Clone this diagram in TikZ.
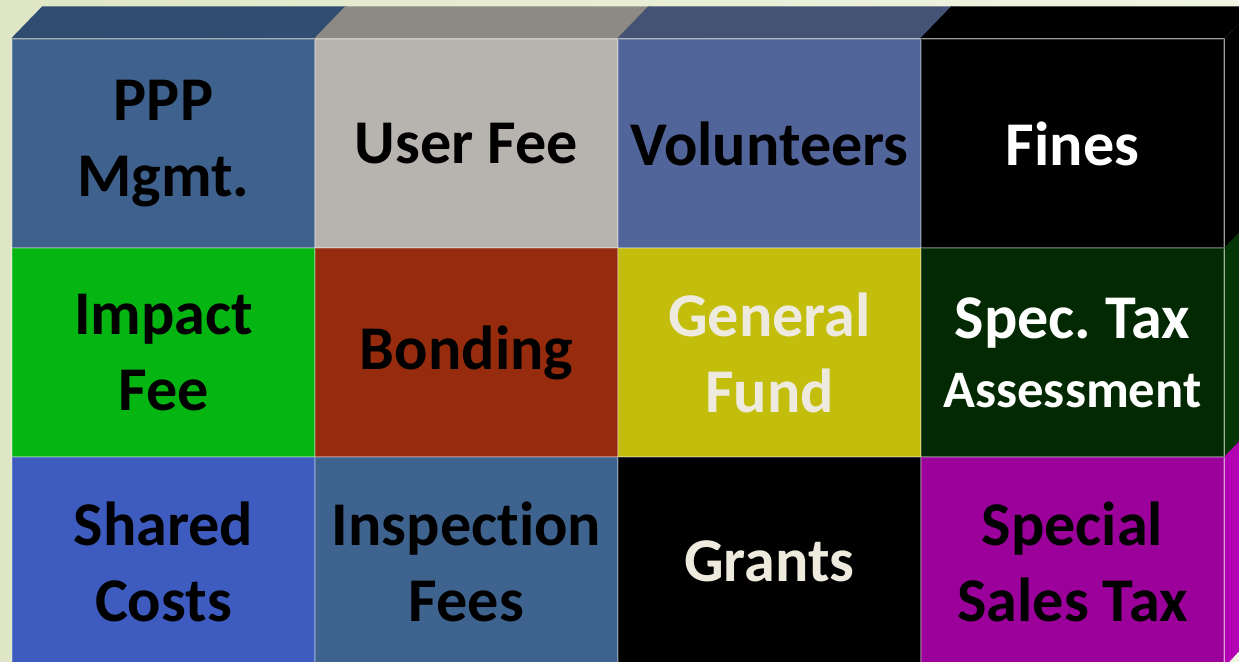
\documentclass[tikz,border=0pt]{standalone}
\usepackage{fontspec}
\setmainfont{Carlito}[Ligatures={NoCommon}]
\frenchspacing

\definecolor{bgleft}{HTML}{DFE6C5}
\definecolor{bgright}{HTML}{F1F5E4}
\definecolor{pppblue}{HTML}{3F618D}
\definecolor{ppptop}{HTML}{2F4D70}
\definecolor{feegrey}{HTML}{B7B4AF}
\definecolor{feetop}{HTML}{8C8A83}
\definecolor{volblue}{HTML}{52659A}
\definecolor{voltop}{HTML}{435275}
\definecolor{impactgreen}{HTML}{05B512}
\definecolor{bondred}{HTML}{962C0D}
\definecolor{fundyellow}{HTML}{C3BD0B}
\definecolor{taxgreen}{HTML}{022902}
\definecolor{taxside}{HTML}{063606}
\definecolor{sharedblue}{HTML}{3E5BBF}
\definecolor{inspblue}{HTML}{3F638F}
\definecolor{salesmag}{HTML}{9B009B}
\definecolor{salesside}{HTML}{B200B2}
\definecolor{paletext}{HTML}{EEEADD}

\begin{document}
\begin{tikzpicture}[
	cell/.style={rectangle, minimum width=3.03cm, minimum height=2.09cm, inner sep=0pt,
		align=center, draw=white, draw opacity=0.2, line width=0.4pt,
		font=\fontsize{17.7}{21.6}\selectfont\bfseries}
	]
	%background
	\useasboundingbox (0,0) rectangle (12.39,6.62);
	\shade[left color=bgleft, right color=bgright] (0,0) rectangle (12.39,6.62);
	
	%top row
	\node[cell, fill=pppblue] (ppp) at (1.635,5.185) {PPP\\Mgmt.};
	\node[cell, fill=feegrey] (userfee) at (4.665,5.185) {User Fee};
	\node[cell, fill=volblue] (volunteers) at (7.695,5.185) {Volunteers};
	\node[cell, fill=black, text=white] (fines) at (10.725,5.185) {Fines};
	
	%middle row
	\node[cell, fill=impactgreen] (impact) at (1.635,3.095) {Impact\\Fee};
	\node[cell, fill=bondred] (bonding) at (4.665,3.095) {Bonding};
	\node[cell, fill=fundyellow, text=paletext] (fund) at (7.695,3.095) {General\\Fund};
	\node[cell, fill=taxgreen, text=white] (spectax) at (10.725,3.095)
		{Spec. Tax\\[-2pt]{\fontsize{15}{18}\selectfont Assessment}};
	
	%bottom row
	\node[cell, fill=sharedblue] (shared) at (1.635,1.005) {Shared\\Costs};
	\node[cell, fill=inspblue] (inspection) at (4.665,1.005) {Inspection\\Fees};
	\node[cell, fill=black, text=paletext] (grants) at (7.695,1.005) {Grants};
	\node[cell, fill=salesmag] (salestax) at (10.725,1.005) {Special\\Sales Tax};
	
	%top faces
	\fill[ppptop] (ppp.north west) -- ++(0.31,0.32) -- ([shift={(0.31,0.32)}]ppp.north east) -- (ppp.north east) -- cycle;
	\fill[feetop] (userfee.north west) -- ++(0.31,0.32) -- ([shift={(0.31,0.32)}]userfee.north east) -- (userfee.north east) -- cycle;
	\fill[voltop] (volunteers.north west) -- ++(0.31,0.32) -- ([shift={(0.31,0.32)}]volunteers.north east) -- (volunteers.north east) -- cycle;
	\fill[black] (fines.north west) -- ++(0.31,0.32) -- ([shift={(0.31,0.32)}]fines.north east) -- (fines.north east) -- cycle;
	
	%side faces
	\fill[black] (fines.south east) -- (fines.north east) -- ++(0.31,0.32) -- ++(0,-2.09) -- cycle;
	\fill[taxside] (spectax.south east) -- (spectax.north east) -- ++(0.31,0.32) -- ++(0,-2.09) -- cycle;
	\fill[salesside] (salestax.south east) -- (salestax.north east) -- ++(0.31,0.32) -- ++(0,-2.09) -- cycle;
\end{tikzpicture}
\end{document}
